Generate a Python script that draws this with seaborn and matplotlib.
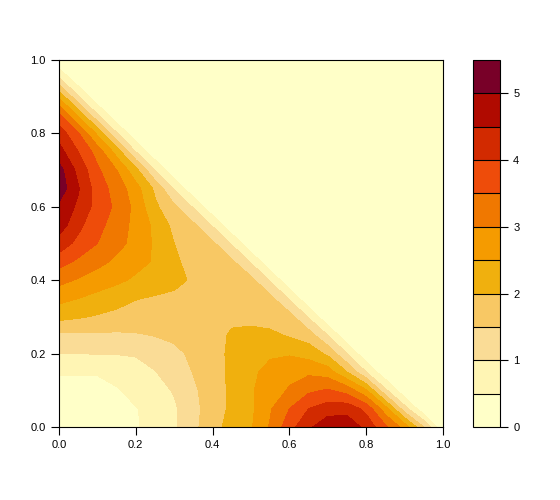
import numpy as np
import matplotlib
matplotlib.use("Agg")
import matplotlib.pyplot as plt
import seaborn as sns

x_vals = [round(0.05 * i, 2) for i in range(21)]
y_vals = [round(0.05 * i, 2) for i in range(21)]

# density, one list per y row, left to right; the rest of a row is 0
row_000 = [.42, .38, .38, .42, .47, .62, .93, 1.38, 1.8, 2.2, 2.45, 3.05, 3.8, 4.4, 4.85, 4.85, 4.35, 3.6, 2.8, 1.5]
row_005 = [.38, .35, .37, .42, .48, .62, .92, 1.35, 1.75, 2.1, 2.4, 2.95, 3.5, 4.0, 4.25, 4.3, 3.85, 2.7, 1.2, .1]
row_010 = [.42, .4, .42, .47, .62, .78, 1.05, 1.42, 1.75, 2.1, 2.45, 2.75, 3.05, 3.4, 3.55, 3.3, 2.55, 1.1, .1]
row_015 = [.52, .52, .52, .62, .78, .98, 1.25, 1.52, 1.8, 2.1, 2.4, 2.65, 2.85, 2.9, 2.75, 2.0, 1.0, .1]
row_020 = [1.0, 1.0, 1.02, 1.02, 1.05, 1.2, 1.38, 1.6, 1.82, 2.1, 2.35, 2.43, 2.45, 2.3, 1.9, 1.0, .1]
row_025 = [1.4, 1.42, 1.42, 1.42, 1.45, 1.52, 1.6, 1.72, 1.85, 2.05, 2.15, 2.1, 1.95, 1.75, 1.0, .1]
row_030 = [2.15, 2.05, 1.95, 1.85, 1.8, 1.78, 1.8, 1.85, 1.9, 1.92, 1.85, 1.8, 1.7, .95, .1]
row_035 = [2.65, 2.5, 2.35, 2.2, 2.02, 1.95, 1.92, 1.88, 1.85, 1.8, 1.75, 1.65, .95, .1]
row_040 = [3.15, 2.95, 2.75, 2.6, 2.42, 2.25, 2.1, 1.95, 1.85, 1.8, 1.65, .95, .1]
row_045 = [3.7, 3.4, 3.15, 2.9, 2.65, 2.45, 2.05, 1.9, 1.8, 1.6, .95, .1]
row_050 = [4.3, 3.85, 3.5, 3.15, 2.85, 2.42, 2.0, 1.8, 1.6, .95, .1]
row_055 = [4.75, 4.15, 3.6, 3.35, 2.8, 2.4, 1.85, 1.6, .95, .1]
row_060 = [4.9, 4.4, 3.8, 3.4, 2.85, 2.1, 1.6, .95, .1]
row_065 = [5.3, 4.55, 3.75, 3.3, 2.7, 1.9, .95, .1]
row_070 = [5.2, 4.35, 3.6, 3.0, 2.15, 1.0, .1]
row_075 = [4.7, 4.0, 3.3, 2.3, 1.0, .1]
row_080 = [4.3, 3.55, 2.4, 1.05, .1]
row_085 = [3.6, 2.4, 1.05, .1]
row_090 = [2.4, 1.05, .1]
row_095 = [1.05, .1]
row_100 = [0.0]
rows = [row_000, row_005, row_010, row_015, row_020, row_025, row_030, row_035, row_040,
        row_045, row_050, row_055, row_060, row_065, row_070, row_075, row_080, row_085,
        row_090, row_095, row_100]

levels = [0, .5, 1, 1.5, 2, 2.5, 3, 3.5, 4, 4.5, 5, 5.5]
band_colors = ["#FFFFC8", "#FFF5B4", "#FADC96", "#F8C864", "#F0B00E", "#F59B00",
               "#F07800", "#EE4C0A", "#D22A00", "#B00A00", "#780028"]
axis_ticks = [0.0, 0.2, 0.4, 0.6, 0.8, 1.0]
bar_ticks = [0, 1, 2, 3, 4, 5]

sns.set_style("ticks")
plt.rcParams["font.family"] = ["Liberation Sans", "DejaVu Sans"]
plt.rcParams["axes.edgecolor"] = "black"

W, H = 560, 500
fig = plt.figure(figsize=(W / 100, H / 100), dpi=100)
ax = fig.add_axes([59 / W, 1 - 427 / H, 384 / W, 367 / H])
cax = fig.add_axes([473 / W, 1 - 427 / H, 27 / W, 367 / H])

z = np.array([r + [0.0] * (21 - len(r)) for r in rows])
cf = ax.contourf(x_vals, y_vals, z, levels=levels,
                 colors=sns.color_palette(band_colors), antialiased=False)
ax.set_xlim(0, 1)
ax.set_ylim(0, 1)
ax.set_xticks(axis_ticks)
ax.set_yticks(axis_ticks)
ax.set_xticklabels([f"{t:.1f}" for t in axis_ticks])
ax.set_yticklabels([f"{t:.1f}" for t in axis_ticks])
ax.tick_params(length=5.5, width=0.8, labelsize=8, color="black", labelcolor="black", pad=4)

cb = fig.colorbar(cf, cax=cax, ticks=bar_ticks, drawedges=True)
cb.ax.set_yticklabels([str(t) for t in bar_ticks])
cb.ax.tick_params(length=5.5, width=0.8, labelsize=8, color="black", labelcolor="black", pad=4)
cb.dividers.set_color("black")
cb.dividers.set_linewidth(0.8)
cb.outline.set_edgecolor("black")
cb.outline.set_linewidth(0.8)
for s in ax.spines.values():
    s.set_linewidth(0.8)

fig.savefig("out.png", dpi=100)
